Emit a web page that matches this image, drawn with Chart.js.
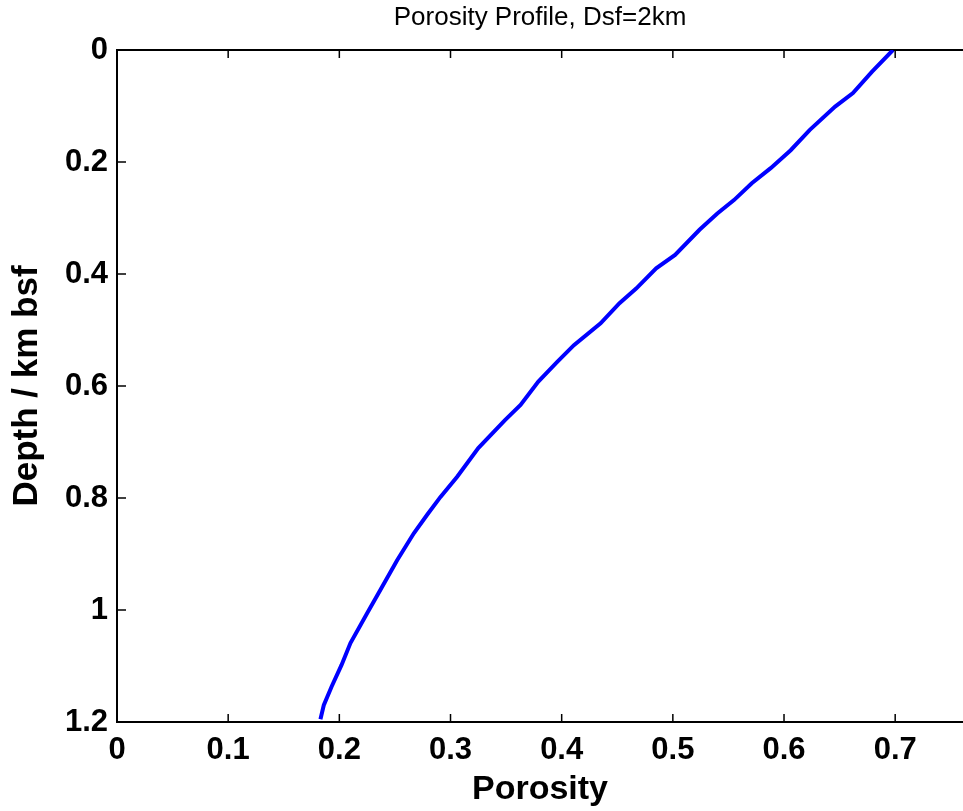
<!DOCTYPE html>
<html>
<head>
<meta charset="utf-8">
<script src="https://cdn.jsdelivr.net/npm/chart.js@4"></script>
<style>
  body { margin: 0; background: #fff; }
</style>
</head>
<body>
<canvas id="myChart" width="963" height="811"></canvas>
<script>
'use strict';

// data
let depthKm = [0, 0.039, 0.077, 0.101, 0.143, 0.179, 0.211, 0.238, 0.268, 0.292, 0.321, 0.366, 0.390, 0.426, 0.452, 0.488, 0.527, 0.557, 0.592, 0.634, 0.661, 0.711, 0.762, 0.798, 0.830, 0.863, 0.911, 0.964, 1.006, 1.059, 1.098, 1.137, 1.170, 1.195];
let porosity = [0.698, 0.679, 0.662, 0.646, 0.623, 0.606, 0.588, 0.571, 0.555, 0.540, 0.524, 0.502, 0.485, 0.467, 0.452, 0.435, 0.411, 0.396, 0.379, 0.363, 0.349, 0.325, 0.306, 0.291, 0.279, 0.267, 0.252, 0.237, 0.225, 0.210, 0.202, 0.193, 0.186, 0.183];

let xTicks = [0, 0.1, 0.2, 0.3, 0.4, 0.5, 0.6, 0.7];
let yTicks = [0, 0.2, 0.4, 0.6, 0.8, 1, 1.2];

let fontName = '"Liberation Sans", Arial, sans-serif';

let points = [];
for (let i = 0; i < porosity.length; i++) {
  points.push({ x: porosity[i], y: depthKm[i] });
}

// inward tick marks, matlab style
let innerTicks = {
  id: 'innerTicks',
  afterDraw(chart) {
    let c = chart.ctx;
    let area = chart.chartArea;
    let xs = chart.scales.x;
    let ys = chart.scales.y;
    c.save();
    c.strokeStyle = '#000';
    c.lineWidth = 1.5;
    c.beginPath();
    xTicks.forEach(v => {
      let px = xs.getPixelForValue(v);
      c.moveTo(px, area.bottom);
      c.lineTo(px, area.bottom - 8);
      c.moveTo(px, area.top);
      c.lineTo(px, area.top + 8);
    });
    yTicks.forEach(v => {
      let py = ys.getPixelForValue(v);
      c.moveTo(area.left, py);
      c.lineTo(area.left + 9, py);
    });
    c.stroke();
    c.restore();
  }
};

let ctx = document.getElementById('myChart');

new Chart(ctx, {
  type: 'scatter',
  data: {
    datasets: [{
      data: points,
      showLine: true,
      borderColor: '#0000ff',
      borderWidth: 4,
      pointRadius: 0,
      tension: 0
    }]
  },
  options: {
    responsive: false,
    animation: false,
    layout: { padding: 0 },
    plugins: {
      legend: { display: false },
      tooltip: { enabled: false }
    },
    scales: {
      x: {
        type: 'linear',
        position: 'bottom',
        min: 0,
        max: 0.761,
        afterBuildTicks: scale => { scale.ticks = xTicks.map(v => ({ value: v })); },
        afterFit: scale => { scale.height = 89; },
        grid: { display: false, drawTicks: false },
        border: { display: true, color: '#000', width: 2 },
        ticks: {
          padding: 10,
          color: '#000',
          maxRotation: 0,
          font: { family: fontName, size: 31, weight: 'bold' },
          callback: v => String(v)
        },
        title: {
          display: true,
          text: 'Porosity',
          color: '#000',
          padding: { top: 0, bottom: 1 },
          font: { family: fontName, size: 34, weight: 'bold' }
        }
      },
      x2: {
        type: 'linear',
        position: 'top',
        min: 0,
        max: 0.761,
        afterFit: scale => { scale.height = 50; },
        grid: { display: false, drawTicks: false },
        border: { display: true, color: '#000', width: 2 },
        ticks: { display: false },
        title: {
          display: true,
          text: 'Porosity Profile, Dsf=2km',
          color: '#000',
          padding: { top: 2, bottom: 0 },
          font: { family: fontName, size: 26, weight: 'normal' }
        }
      },
      y: {
        type: 'linear',
        reverse: true,
        min: 0,
        max: 1.2,
        afterBuildTicks: scale => { scale.ticks = yTicks.map(v => ({ value: v })); },
        afterFit: scale => { scale.width = 117; },
        grid: { display: false, drawTicks: false },
        border: { display: true, color: '#000', width: 2 },
        ticks: {
          padding: 9,
          color: '#000',
          font: { family: fontName, size: 31, weight: 'bold' },
          callback: v => String(v)
        },
        title: {
          display: true,
          text: 'Depth / km bsf',
          color: '#000',
          padding: { top: 6, bottom: 0 },
          font: { family: fontName, size: 35, weight: 'bold' }
        }
      }
    }
  },
  plugins: [innerTicks]
});
</script>
</body>
</html>
